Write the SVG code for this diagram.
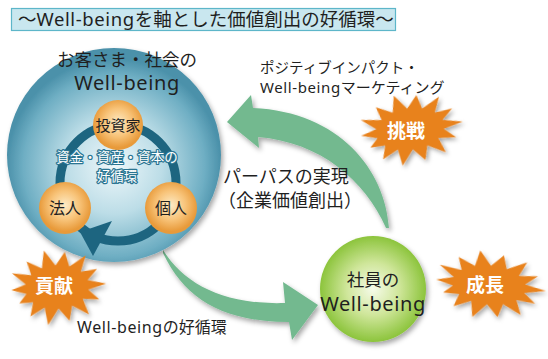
<svg xmlns="http://www.w3.org/2000/svg" width="548" height="359" viewBox="0 0 548 359">
<style>
text{font-family:"Noto Sans","Noto Sans CJK JP",sans-serif;fill:#1f1f1f}
.c{text-anchor:middle}
.wb{letter-spacing:0.6px}
.burst{fill:#e8821e}
.bt{fill:#fff;font-weight:bold;font-size:19px;text-anchor:middle}
.ring{fill:none;stroke:#1d6580;stroke-width:9}
.ct{fill:#fff;stroke:#2a7592;stroke-width:2.4;paint-order:stroke;stroke-linejoin:round;font-size:13.5px;text-anchor:middle}
.arrow{fill:#73b98f}
</style>
<defs>
<filter id="sh" x="-20%" y="-20%" width="150%" height="150%">
<feDropShadow dx="2" dy="3" stdDeviation="2.5" flood-color="#000" flood-opacity="0.35"/>
</filter>
<radialGradient id="gBlue" cx="0.5" cy="0.55" r="0.5">
<stop offset="0" stop-color="#eef7fa"/>
<stop offset="0.45" stop-color="#bcdde7"/>
<stop offset="0.85" stop-color="#6eaec3"/>
<stop offset="1" stop-color="#4b91aa"/>
</radialGradient>
<radialGradient id="gOr" cx="0.5" cy="0.45" r="0.5">
<stop offset="0" stop-color="#fdebc6"/>
<stop offset="0.55" stop-color="#f8c47a"/>
<stop offset="1" stop-color="#e89a3a"/>
</radialGradient>
<radialGradient id="gGr" cx="0.5" cy="0.5" r="0.5">
<stop offset="0" stop-color="#f6fbea"/>
<stop offset="0.5" stop-color="#cfe69a"/>
<stop offset="1" stop-color="#8cc43c"/>
</radialGradient>
<polygon id="star" points="56,0 35.1,4.9 46.85,15.62 28.14,13.72 34,30 15.62,19.82 11.57,35.1 0,22 -13,38 -15.62,19.82 -32.42,28.14 -28.14,13.72 -44,14 -35.1,4.9 -52,0 -35.1,-4.9 -50,-17 -28.14,-13.72 -32.42,-28.14 -15.62,-19.82 -12,-38 0,-22 11.57,-35.1 15.62,-19.82 35,-30 28.14,-13.72 46.85,-15.62 35.1,-4.9"/>
</defs>

<g id="title">
<rect x="11.5" y="8.5" width="384" height="22" fill="#c9e7ef" stroke="#5db6c9" stroke-width="1.2"/>
<text x="18" y="26" font-size="18.5">～<tspan class="wb">Well-being</tspan>を軸とした価値創出の好循環～</text>
</g>

<g id="connectors">
<path class="arrow" filter="url(#sh)" d="M 389 228 C 385 170, 340 112, 253 108 L 251 95 L 227 122 L 259 148 L 258 137 C 320 142, 365 180, 386 228 Z"/>
<path class="arrow" filter="url(#sh)" d="M 163 250 C 185 285, 225 305, 285 303 L 283 282 L 318 305 L 292 340 L 289 322 C 225 322, 185 300, 163 253 Z"/>
</g>

<g id="society">
<circle cx="114" cy="155" r="107" fill="url(#gBlue)" filter="url(#sh)"/>
<text class="c" x="127" y="66" font-size="17.5">お客さま・社会の</text>
<text class="c wb" x="127" y="90" font-size="20">Well-being</text>
<g id="cycle">
<circle class="ring" cx="118" cy="183" r="58"/>
<polygon points="80,232 112,221 93,256" fill="#1d6580"/>
<text class="ct" x="117" y="162">資金・資産・資本の</text>
<text class="ct" x="117" y="181">好循環</text>
</g>
<g id="investor">
<circle cx="118" cy="125" r="25" fill="url(#gOr)"/>
<text class="c" x="118" y="131" font-size="15">投資家</text>
</g>
<g id="corporate">
<circle cx="65" cy="208" r="26" fill="url(#gOr)"/>
<text class="c" x="65" y="214" font-size="16">法人</text>
</g>
<g id="individual">
<circle cx="171" cy="208" r="26" fill="url(#gOr)"/>
<text class="c" x="171" y="214" font-size="16">個人</text>
</g>
</g>

<g id="employee">
<circle cx="373" cy="289" r="53" fill="url(#gGr)" filter="url(#sh)"/>
<text class="c" x="373" y="286" font-size="17.5">社員の</text>
<text class="c wb" x="373" y="311" font-size="20">Well-being</text>
</g>

<g id="challenge">
<use href="#star" class="burst" filter="url(#sh)" transform="translate(410,129) rotate(-8) scale(0.95,0.93)"/>
<text class="bt" x="406" y="138" font-size="18">挑戦</text>
</g>
<g id="growth">
<use href="#star" class="burst" filter="url(#sh)" transform="translate(489,285) rotate(6) scale(1.02,0.88)"/>
<text class="bt" x="485" y="292">成長</text>
</g>
<g id="contribution">
<use href="#star" class="burst" filter="url(#sh)" transform="translate(57,287) rotate(-4) scale(0.88,0.98)"/>
<text class="bt" x="54" y="293">貢献</text>
</g>

<g id="labels">
<text x="260" y="73" font-size="14.5">ポジティブインパクト・</text>
<text x="260" y="93" font-size="15"><tspan class="wb">Well-being</tspan>マーケティング</text>
<text x="223" y="183" font-size="18">パーパスの実現</text>
<text x="218" y="207" font-size="18">（企業価値創出）</text>
<text x="77" y="333" font-size="16"><tspan class="wb">Well-being</tspan>の好循環</text>
</g>
</svg>
